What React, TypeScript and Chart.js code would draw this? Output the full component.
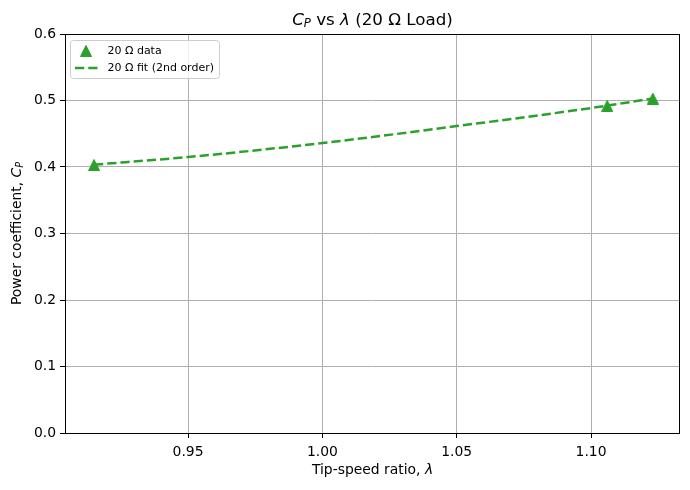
import { useEffect, useRef } from "react";
import { Chart, registerables } from "chart.js";
Chart.register(...registerables);

const dataLambda = [0.915, 1.106, 1.123];
const dataCp = [0.403, 0.492, 0.503];
const fitLambda = [0.915, 0.95, 1.0, 1.05, 1.1, 1.123];
const fitCp = [0.4035, 0.415, 0.436, 0.4615, 0.4887, 0.503];
const xTicks = [0.95, 1.0, 1.05, 1.1];
const yTicks = [0, 0.1, 0.2, 0.3, 0.4, 0.5, 0.6];
const legendLabels = ["20 Ω data", "20 Ω fit (2nd order)"];

const GREEN = "#2ca02c";
const FONT = "'DejaVu Sans', sans-serif";

function makeTriangle(size: number) {
  const c = document.createElement("canvas");
  c.width = size;
  c.height = size;
  const ctx = c.getContext("2d")!;
  ctx.fillStyle = GREEN;
  ctx.strokeStyle = GREEN;
  ctx.lineWidth = 1;
  ctx.beginPath();
  ctx.moveTo(size / 2, 0.5);
  ctx.lineTo(size - 0.5, size - 0.5);
  ctx.lineTo(0.5, size - 0.5);
  ctx.closePath();
  ctx.fill();
  ctx.stroke();
  return c;
}

type Part = { t: string; italic?: boolean; sub?: boolean };

function drawRich(ctx: CanvasRenderingContext2D, parts: Part[], cx: number, cy: number, size: number) {
  const fontFor = (p: Part) =>
    `${p.italic ? "italic " : ""}${p.sub ? size * 0.7 : size}px ${FONT}`;
  let total = 0;
  for (const p of parts) {
    ctx.font = fontFor(p);
    total += ctx.measureText(p.t).width;
  }
  let x = cx - total / 2;
  ctx.textBaseline = "middle";
  ctx.textAlign = "left";
  for (const p of parts) {
    ctx.font = fontFor(p);
    ctx.fillText(p.t, x, p.sub ? cy + size * 0.22 : cy);
    x += ctx.measureText(p.t).width;
  }
}

const decorPlugin = {
  id: "decor",
  afterDraw(chart: any) {
    const ctx: CanvasRenderingContext2D = chart.ctx;
    const a = chart.chartArea;
    ctx.save();
    // frame
    ctx.strokeStyle = "#000";
    ctx.lineWidth = 1;
    ctx.strokeRect(Math.round(a.left) + 0.5, Math.round(a.top) + 0.5, Math.round(a.right - a.left) - 1, Math.round(a.bottom - a.top));
    ctx.fillStyle = "#000";
    const cx = (a.left + a.right) / 2;
    // title
    drawRich(
      ctx,
      [
        { t: "C", italic: true },
        { t: "P", italic: true, sub: true },
        { t: " vs " },
        { t: "λ", italic: true },
        { t: " (20 Ω Load)" },
      ],
      cx,
      20.5,
      16.7
    );
    // x label
    drawRich(ctx, [{ t: "Tip-speed ratio, " }, { t: "λ", italic: true }], cx, 470.5, 13.9);
    // y label
    ctx.save();
    ctx.translate(17, (a.top + a.bottom) / 2);
    ctx.rotate(-Math.PI / 2);
    drawRich(
      ctx,
      [{ t: "Power coefficient, " }, { t: "C", italic: true }, { t: "P", italic: true, sub: true }],
      0,
      0,
      13.9
    );
    ctx.restore();
    // legend
    const lx = 70.5, ly = 40.5, lw = 149, lh = 38, r = 3;
    ctx.beginPath();
    ctx.moveTo(lx + r, ly);
    ctx.arcTo(lx + lw, ly, lx + lw, ly + lh, r);
    ctx.arcTo(lx + lw, ly + lh, lx, ly + lh, r);
    ctx.arcTo(lx, ly + lh, lx, ly, r);
    ctx.arcTo(lx, ly, lx + lw, ly, r);
    ctx.closePath();
    ctx.fillStyle = "rgba(255,255,255,0.8)";
    ctx.fill();
    ctx.strokeStyle = "#cccccc";
    ctx.lineWidth = 1;
    ctx.stroke();
    // legend marker
    const tri = makeTriangle(12);
    ctx.drawImage(tri, 86 - 6, 51 - 6);
    // legend line
    ctx.strokeStyle = GREEN;
    ctx.lineWidth = 2.5;
    ctx.setLineDash([9.25, 4]);
    ctx.beginPath();
    ctx.moveTo(75, 68);
    ctx.lineTo(97.5, 68);
    ctx.stroke();
    ctx.setLineDash([]);
    ctx.fillStyle = "#000";
    ctx.font = `11px ${FONT}`;
    ctx.textAlign = "left";
    ctx.textBaseline = "middle";
    ctx.fillText(legendLabels[0], 107.5, 51);
    ctx.fillText(legendLabels[1], 107.5, 68);
    ctx.restore();
  },
};

export default function App() {
  const ref = useRef<HTMLCanvasElement>(null);
  useEffect(() => {
    const tri = makeTriangle(12);
    const chart = new Chart(ref.current!, {
      type: "scatter",
      data: {
        datasets: [
          {
            label: legendLabels[1],
            data: fitLambda.map((x, i) => ({ x, y: fitCp[i] })),
            showLine: true,
            borderColor: GREEN,
            borderWidth: 2.5,
            borderDash: [9.25, 4],
            pointRadius: 0,
            cubicInterpolationMode: "monotone",
            order: 2,
          },
          {
            label: legendLabels[0],
            data: dataLambda.map((x, i) => ({ x, y: dataCp[i] })),
            pointStyle: tri as any,
            pointRadius: 6,
            backgroundColor: GREEN,
            borderColor: GREEN,
            order: 1,
          },
        ],
      },
      options: {
        responsive: false,
        animation: false,
        devicePixelRatio: 1,
        layout: { padding: { left: 0, right: 10, top: 34, bottom: 0 } },
        plugins: { legend: { display: false }, title: { display: false }, tooltip: { enabled: false } },
        scales: {
          x: {
            type: "linear",
            min: 0.9042,
            max: 1.1331,
            afterBuildTicks: (s: any) => {
              s.ticks = xTicks.map((v) => ({ value: v }));
            },
            afterFit: (s: any) => {
              s.height = 57;
            },
            grid: { color: "#b0b0b0", lineWidth: 1, tickLength: 5, tickColor: "#000", tickWidth: 1 },
            border: { display: false },
            ticks: {
              color: "#000",
              padding: 6,
              maxRotation: 0,
              font: { family: FONT, size: 13.9 },
              callback: (v: any) => Number(v).toFixed(2),
            },
          },
          y: {
            type: "linear",
            min: 0,
            max: 0.6,
            afterBuildTicks: (s: any) => {
              s.ticks = yTicks.map((v) => ({ value: v }));
            },
            afterFit: (s: any) => {
              s.width = 65;
            },
            grid: { color: "#b0b0b0", lineWidth: 1, tickLength: 5, tickColor: "#000", tickWidth: 1 },
            border: { display: false },
            ticks: {
              color: "#000",
              padding: 4,
              font: { family: FONT, size: 13.9 },
              callback: (v: any) => Number(v).toFixed(1),
            },
          },
        },
      },
      plugins: [decorPlugin],
    } as any);
    return () => chart.destroy();
  }, []);
  return (
    <div style={{ position: "fixed", left: 0, top: 0, width: 690, height: 490, background: "#fff" }}>
      <canvas ref={ref} width={690} height={490} style={{ display: "block" }} />
    </div>
  );
}
